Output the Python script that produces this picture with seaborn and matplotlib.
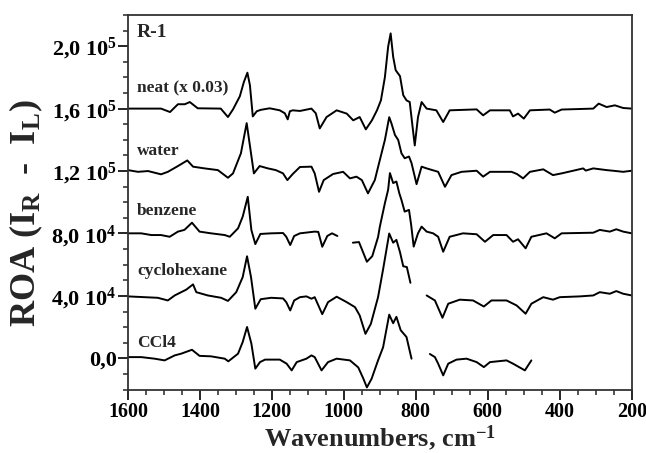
import numpy as np
import pandas as pd
import matplotlib
matplotlib.use("Agg")
import matplotlib.pyplot as plt
import seaborn as sns

# ROA spectra of R-1. Wavenumbers in cm-1,
# intensities in units of 1e3 relative to each trace's own baseline.
neat_w = [1600, 1508, 1483, 1461, 1442, 1428, 1406, 1342, 1322, 1308, 1289, 1278, 1268, 1261, 1253, 1242, 1231, 1206, 1178, 1164,
          1156, 1150, 1142, 1122, 1090, 1078, 1067, 1048, 1020, 992, 974, 956, 939, 922, 908, 897, 886, 877, 870, 863,
          856, 844, 835, 826, 817, 809, 803, 794, 784, 770, 743, 724, 706, 631, 613, 594, 539, 530, 516, 500,
          483, 428, 414, 395, 307, 292, 270, 247, 224, 200]
neat_v = [0, 0, -2.2, 2.8, 2.8, 4.2, 0.2, 0, -5.4, -0.5, 7.9, 16.9, 23.0, 15.0, -5.0, -1.7, -0.8, 0.2, -1.1, -3.0,
          -6.9, -1.7, -1.1, -1.5, 0, -3.0, -12.7, -5.4, -1.1, -3.2, -7.5, -5.4, -13.3, -7.5, -1.1, 5.3, 20.1, 39.6, 48.2, 33.2,
          24.6, 20.8, 8.6, 5.3, 4.2, -11.8, -23.6, -5.4, 4.2, 0, -1.1, -8.6, -1.1, -0.5, -4.3, -1.1, -1.1, -5.0, -3.2, -6.4,
          -1.1, -0.6, -2.6, -0.6, 0, 3.2, 1.0, 2.1, 0.4, 0]

water_w = [1600, 1572, 1544, 1508, 1489, 1461, 1435, 1419, 1387, 1350, 1322, 1308, 1286, 1270, 1258, 1250, 1234, 1211, 1189, 1169,
           1157, 1142, 1122, 1090, 1081, 1069, 1056, 1030, 1002, 983, 965, 950, 933, 914, 900, 886, 874, 868, 858, 849,
           840, 831, 819, 812, 798, 784, 770, 738, 719, 701, 673, 631, 613, 594, 557, 534, 519, 502, 483, 446,
           419, 395, 363, 335, 328, 307, 270, 252, 224, 200]
water_v = [0.6, -0.5, 0, -2.1, -0.5, 3.2, 6.8, 2.8, 1.7, 0.6, -4.3, -1.5, 11.4, 30.7, 11.4, -1.5, 3.2, 1.7, 0.6, -1.5,
           -5.8, -1.9, 2.6, 2.8, -1.5, -13.3, -5.8, -1.9, -0.5, -4.7, -3.6, -5.8, -14.3, -5.8, 7.1, 19.9, 34.5, 30.7, 23.1, 19.9,
           11.4, 8.2, 9.3, 5.1, -8.4, 2.8, 1.7, -0.5, -10.1, -2.6, -0.5, 0.2, -3.6, -0.5, -0.5, -0.5, -1.9, -4.7, -0.5, 1.1,
           -2.6, -1.5, 0.2, 1.7, 0.3, 1.7, 0.6, 0.2, -0.5, 0.2]

# benzene, cyclohexane and CCl4 have gaps where the solvent bands were cut out
benz_w1 = [1600, 1563, 1535, 1508, 1484, 1461, 1443, 1422, 1401, 1369, 1331, 1317, 1294, 1281, 1267, 1257, 1246, 1232, 1202, 1169,
           1160, 1149, 1138, 1122, 1081, 1071, 1060, 1046, 1033, 1018]
benz_v1 = [0.1, 0.1, -1.0, -1.0, -2.1, 1.2, 2.3, 6.9, 1.2, 0.1, -1.0, -2.1, 3.3, 10.8, 23.5, 2.3, -6.8, -0.3, 0.1, 0.3,
           -2.1, -7.4, -1.6, 0.1, 1.2, 1.0, -8.5, -1.6, 0.1, -1.6]
benz_w2 = [975, 958, 936, 921, 905, 900, 886, 877, 872, 863, 854, 846, 840, 831, 819, 813, 806, 794, 784, 770,
           752, 738, 724, 706, 669, 631, 608, 585, 548, 530, 516, 495, 479, 437, 414, 395, 307, 289, 261, 243,
           224, 200]
benz_v2 = [-5.9, -5.5, -18.1, -14.5, -2.3, 4.4, 19.4, 28.0, 38.7, 32.3, 33.3, 25.8, 21.5, 14.0, 15.1, 5.5, -8.4, 0.1, 4.4, 1.2,
           0.1, -2.1, -11.7, -2.1, 0.1, -0.5, -5.3, -1.0, -1.0, -5.3, -3.7, -9.5, -2.1, 0.1, -3.1, 0.1, 0.5, 2.3, 1.2, 2.7,
           1.2, 0.1]

cyc_w1 = [1600, 1554, 1517, 1489, 1470, 1452, 1438, 1419, 1410, 1378, 1341, 1322, 1299, 1281, 1269, 1258, 1246, 1231, 1202, 1169,
          1160, 1149, 1138, 1122, 1104, 1090, 1081, 1060, 1044, 1020, 992, 969, 956, 940, 925, 905, 891, 874, 863, 854,
          844, 835, 825, 815]
cyc_v1 = [-0.3, -0.8, -1.2, -2.9, 0.3, 2.4, 4.0, 7.4, 2.4, 0.3, -1.2, -3.2, 2.4, 12.1, 25.4, 12.1, -8.2, -2.1, -1.2, -1.6,
          -4.0, -9.3, -2.9, -0.8, -0.3, -1.8, -0.8, -11.7, -4.0, -0.5, -4.0, -7.2, -12.5, -24.3, -17.9, -0.8, 17.0, 40.0, 34.1, 35.9,
          28.0, 19.0, 18.5, 8.4]
cyc_w2 = [770, 747, 726, 710, 678, 641, 611, 590, 548, 520, 495, 479, 446, 419, 400, 344, 307, 289, 261, 243, 224, 200]
cyc_v2 = [0.3, -2.9, -14.0, -5.0, -2.4, -2.9, -6.8, -2.9, -2.9, -6.1, -11.4, -5.0, -0.8, -2.4, -0.8, -0.3, 0.3, 2.4, 1.4, 3.1, 1.4, 0.3]

ccl_w1 = [1600, 1563, 1526, 1498, 1470, 1452, 1422, 1401, 1369, 1331, 1321, 1294, 1281, 1269, 1257, 1246, 1233, 1219, 1178, 1159,
          1145, 1131, 1104, 1090, 1081, 1062, 1044, 1020, 983, 960, 946, 936, 923, 905, 891, 874, 863, 854, 842, 826,
          812]
ccl_v1 = [0.8, 0.8, -0.2, -1.3, 1.9, 3.0, 5.5, 1.6, 1.3, -0.2, -1.9, 3.0, 10.5, 20.1, 9.5, -6.6, -2.4, -0.8, -0.8, -3.4,
          -7.7, -2.4, -0.2, 1.9, 0.8, -7.7, -2.4, -0.2, -1.3, -5.8, -12.9, -18.6, -13.1, -1.3, 7.1, 28.0, 22.5, 26.6, 18.0, 13.7,
          -0.2]
ccl_w2 = [761, 747, 738, 724, 710, 687, 659, 631, 611, 594, 548, 530, 497, 479]
ccl_v2 = [2.8, 0.8, -3.4, -10.9, -3.4, -0.8, -0.2, -2.4, -5.6, -2.4, -1.3, -3.4, -7.7, -1.3]

samples = ["neat (x 0.03)", "water", "benzene", "cyclohexane", "CCl4"]
offsets = [160000, 120000, 80000, 40000, 0]
segments = [
    [(neat_w, neat_v)],
    [(water_w, water_v)],
    [(benz_w1, benz_v1), (benz_w2, benz_v2)],
    [(cyc_w1, cyc_v1), (cyc_w2, cyc_v2)],
    [(ccl_w1, ccl_v1), (ccl_w2, ccl_v2)],
]
label_y = [170400, 130500, 92000, 53400, 7300]

ytick_vals = [0, 40000, 80000, 120000, 160000, 200000]
ytick_labels = ["0,0", "4,0 10$^{4}$", "8,0 10$^{4}$", "1,2 10$^{5}$", "1,6 10$^{5}$", "2,0 10$^{5}$"]
xtick_vals = [1600, 1400, 1200, 1000, 800, 600, 400, 200]

# long table, one row per point
rows = []
for name, off, segs in zip(samples, offsets, segments):
    for k, (w, v) in enumerate(segs):
        for wi, vi in zip(w, v):
            rows.append({"sample": name, "seg": k, "wavenumber": wi, "roa": vi * 1000 + off})
df = pd.DataFrame(rows)

sns.set_style("ticks")
plt.rcParams['font.family'] = ['Liberation Serif', 'DejaVu Serif']
plt.rcParams['font.weight'] = 'bold'
plt.rcParams['mathtext.fontset'] = 'custom'
plt.rcParams['mathtext.rm'] = 'Liberation Serif:bold'
plt.rcParams['mathtext.it'] = 'Liberation Serif:bold:italic'
plt.rcParams['mathtext.bf'] = 'Liberation Serif:bold'

fig = plt.figure(figsize=(6.46, 4.53), dpi=100)
ax = fig.add_axes([0.198, 0.140, 0.780, 0.827])

for (name, k), part in df.groupby(["sample", "seg"], sort=False):
    sns.lineplot(data=part, x="wavenumber", y="roa", ax=ax, color="black",
                 linewidth=1.4, estimator=None, sort=False,
                 solid_joinstyle="round", solid_capstyle="round")

ax.set_xlim(1600, 200)
ax.set_ylim(-20000, 220000)
ax.set_xticks(xtick_vals)
ax.set_xticks(np.arange(200, 1601, 50), minor=True)
ax.set_yticks(ytick_vals, labels=ytick_labels)
ax.set_yticks(np.arange(-20000, 220001, 10000), minor=True)
ax.tick_params(axis="both", which="major", direction="out", length=7, width=1.2, colors="black")
ax.tick_params(axis="both", which="minor", direction="out", length=3.5, width=1.1)
ax.tick_params(axis="y", pad=1, labelsize=16)
ax.tick_params(axis="x", pad=2, labelsize=14.5)
for lab in ax.get_xticklabels() + ax.get_yticklabels():
    lab.set_fontweight("bold")
for sp in ax.spines.values():
    sp.set_linewidth(1.3)
    sp.set_color("#333333")

ax.set_xlabel("Wavenumbers, cm$^{-1}$", fontsize=19, fontweight="bold", labelpad=1)
ax.set_ylabel("ROA (I$_{\\mathrm{R}}$  -  I$_{\\mathrm{L}}$)", fontsize=26, fontweight="bold")
ax.yaxis.set_label_coords(-0.165, 0.47)

ax.text(1575, 205600, "R-1", fontsize=14, fontweight="bold", va="baseline", ha="left")
for name, yy in zip(samples, label_y):
    ax.text(1575, yy, name, fontsize=12.5, fontweight="bold", va="baseline", ha="left")

fig.savefig("out.png", dpi=100)
